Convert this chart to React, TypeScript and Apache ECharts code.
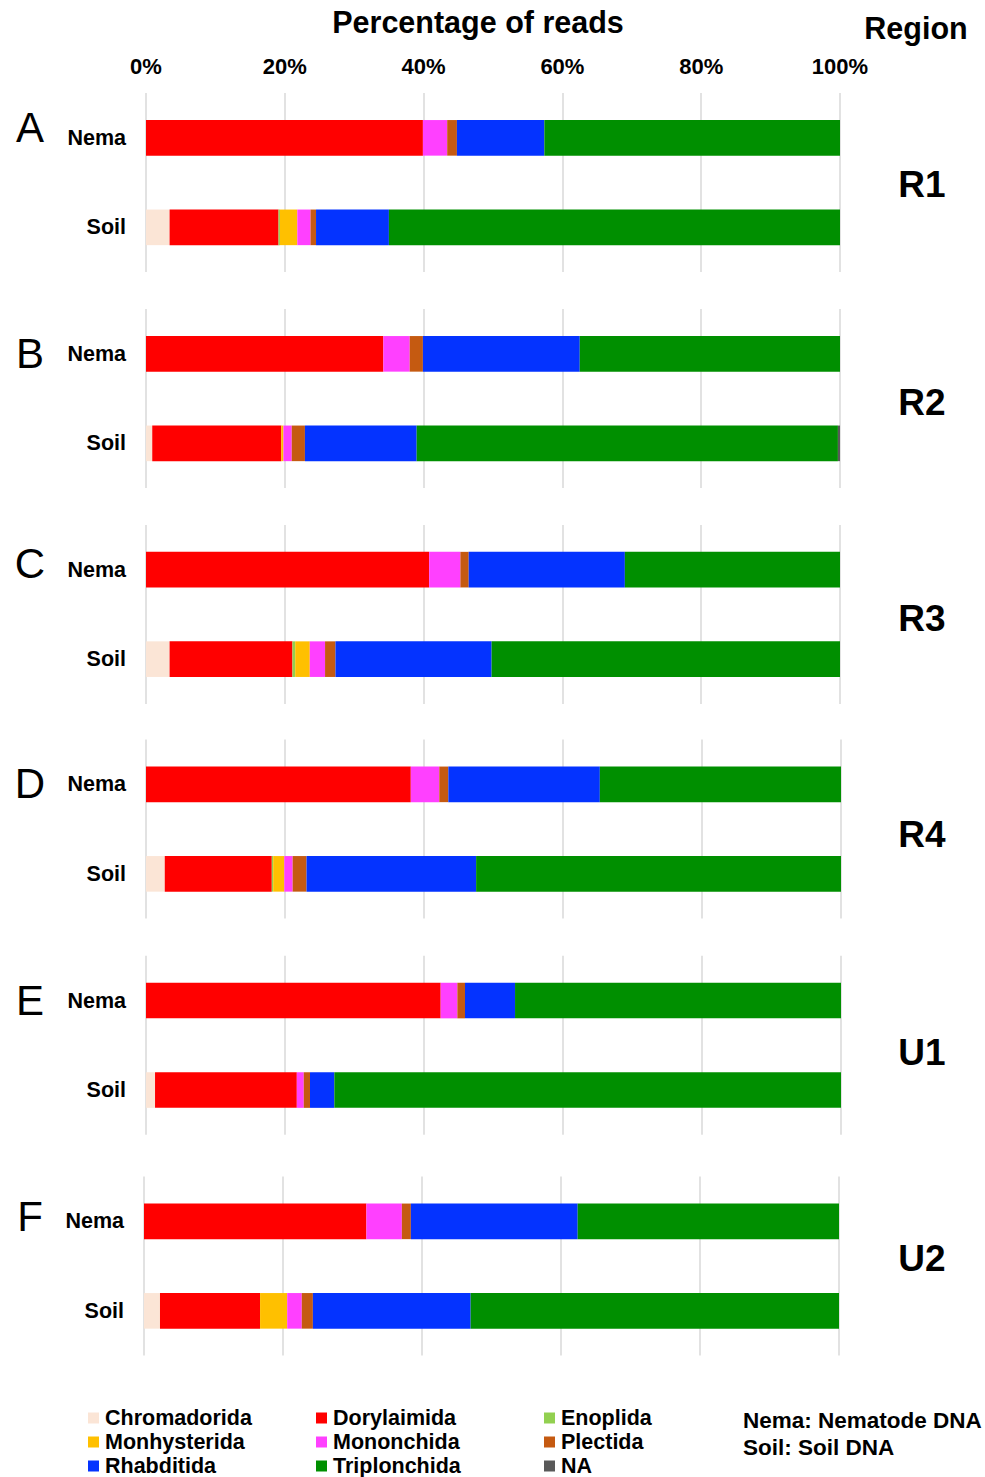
import React, { useEffect, useRef } from "react";
import * as echarts from "echarts";

const ORDERS = ["Chromadorida", "Dorylaimida", "Enoplida", "Monhysterida", "Mononchida", "Plectida", "Rhabditida", "Triplonchida", "NA"];
const COLORS = ["#FBE5D6", "#FF0000", "#92D050", "#FFC000", "#FF40FF", "#C55A11", "#0433FF", "#008F00", "#595959"];
const SAMPLES = ["Nema", "Soil"];
const PANELS = ["A", "B", "C", "D", "E", "F"];
const REGIONS = ["R1", "R2", "R3", "R4", "U1", "U2"];
const TICKS = [0, 20, 40, 60, 80, 100];

// values per order: [A Nema, A Soil, B Nema, B Soil, C Nema, C Soil, D Nema, D Soil, E Nema, E Soil, F Nema, F Soil]
const chromadorida = [0, 3.4, 0, 0.9, 0, 3.4, 0, 2.7, 0, 1.3, 0, 2.3];
const dorylaimida = [39.9, 15.7, 34.2, 18.6, 40.8, 17.7, 38.1, 15.4, 42.4, 20.4, 32.0, 14.4];
const enoplida = [0, 0.2, 0, 0, 0, 0.4, 0, 0.2, 0, 0, 0, 0];
const monhysterida = [0, 2.5, 0, 0.3, 0, 2.1, 0, 1.6, 0, 0, 0, 3.9];
const mononchida = [3.5, 1.9, 3.8, 1.2, 4.5, 2.2, 4.1, 1.2, 2.4, 1.0, 5.1, 2.1];
const plectida = [1.4, 0.8, 1.9, 1.9, 1.2, 1.5, 1.3, 2.0, 1.1, 0.9, 1.3, 1.6];
const rhabditida = [12.6, 10.5, 22.6, 16.1, 22.5, 22.5, 21.8, 24.4, 7.2, 3.5, 24.0, 22.7];
const triplonchida = [42.6, 65.0, 37.5, 60.7, 31.0, 50.2, 34.7, 52.5, 46.9, 72.9, 37.6, 53.0];
const na = [0, 0, 0, 0.3, 0, 0, 0, 0, 0, 0, 0, 0];

const VALUES = [chromadorida, dorylaimida, enoplida, monhysterida, mononchida, plectida, rhabditida, triplonchida, na];

const LEGEND_ROWS = [
  ["Chromadorida", "Dorylaimida", "Enoplida"],
  ["Monhysterida", "Mononchida", "Plectida"],
  ["Rhabditida", "Triplonchida", "NA"],
];

const FONT = "'Liberation Sans', Arial, sans-serif";

export default function App() {
  const ref = useRef<HTMLDivElement>(null);

  useEffect(() => {
    if (!ref.current) return;
    const chart = echarts.init(ref.current, undefined, { renderer: "svg" });

    const gridTops = [93.1, 309.1, 524.9, 739.6, 955.8, 1176.6];
    const gridLefts = [146, 146, 146, 146, 146, 144];
    const gridWidths = [694, 694, 694, 695, 695, 695];
    const letterY = [127, 353, 563, 783, 1000, 1216];
    const regionY = [184, 402, 618, 834, 1052, 1258];

    const grids = PANELS.map((_, g) => ({
      left: gridLefts[g],
      width: gridWidths[g],
      top: gridTops[g],
      height: 179,
      containLabel: false,
    }));

    const xAxes = PANELS.map((_, g) => ({
      type: "value",
      gridIndex: g,
      min: TICKS[0],
      max: TICKS[TICKS.length - 1],
      interval: 20,
      position: "top",
      axisLine: { show: false },
      axisTick: { show: false },
      axisLabel: {
        show: g === 0,
        formatter: "{value}%",
        fontFamily: FONT,
        fontWeight: "bold",
        fontSize: 22,
        color: "#000",
        margin: 16,
      },
      splitLine: { show: true, lineStyle: { color: "#d9d9d9", width: 1.5 } },
    }));

    const yAxes = PANELS.map((_, g) => ({
      type: "category",
      gridIndex: g,
      data: SAMPLES,
      inverse: true,
      axisLine: { show: false },
      axisTick: { show: false },
      axisLabel: {
        fontFamily: FONT,
        fontWeight: "bold",
        fontSize: 21.5,
        color: "#000",
        margin: 20,
      },
    }));

    const series: any[] = [];
    PANELS.forEach((_, g) => {
      ORDERS.forEach((name, o) => {
        series.push({
          type: "bar",
          name,
          stack: "p" + g,
          xAxisIndex: g,
          yAxisIndex: g,
          barWidth: 35.6,
          data: [VALUES[o][2 * g], VALUES[o][2 * g + 1]],
          itemStyle: { color: COLORS[o] },
        });
      });
    });

    const rowCenters = [1417, 1441, 1465];
    const legends = LEGEND_ROWS.map((data, i) => ({
      data,
      orient: "horizontal",
      left: 88,
      top: rowCenters[i] - 10,
      padding: 0,
      itemGap: 0,
      itemWidth: 11,
      itemHeight: 11,
      icon: "rect",
      selectedMode: false,
      textStyle: {
        fontFamily: FONT,
        fontWeight: "bold",
        fontSize: 21.5,
        lineHeight: 20,
        color: "#000",
        width: 211,
        overflow: "none",
        padding: [0, 0, 0, 1],
      },
    }));

    const graphics: any[] = [
      {
        type: "text",
        x: 478,
        y: 22,
        style: {
          text: "Percentage of reads",
          font: `bold 30.5px ${FONT}`,
          fill: "#000",
          textAlign: "center",
          textVerticalAlign: "middle",
        },
      },
      {
        type: "text",
        x: 916,
        y: 28,
        style: {
          text: "Region",
          font: `bold 30.5px ${FONT}`,
          fill: "#000",
          textAlign: "center",
          textVerticalAlign: "middle",
        },
      },
      {
        type: "text",
        x: 743,
        y: 1420,
        style: {
          text: "Nema: Nematode DNA",
          font: `bold 22.5px ${FONT}`,
          fill: "#000",
          textAlign: "left",
          textVerticalAlign: "middle",
        },
      },
      {
        type: "text",
        x: 743,
        y: 1447,
        style: {
          text: "Soil: Soil DNA",
          font: `bold 22.5px ${FONT}`,
          fill: "#000",
          textAlign: "left",
          textVerticalAlign: "middle",
        },
      },
    ];
    PANELS.forEach((p, g) => {
      graphics.push({
        type: "text",
        x: 30,
        y: letterY[g],
        style: {
          text: p,
          font: `42px ${FONT}`,
          fill: "#000",
          textAlign: "center",
          textVerticalAlign: "middle",
        },
      });
      graphics.push({
        type: "text",
        x: 922,
        y: regionY[g],
        style: {
          text: REGIONS[g],
          font: `bold 37px ${FONT}`,
          fill: "#000",
          textAlign: "center",
          textVerticalAlign: "middle",
        },
      });
    });

    chart.setOption({
      animation: false,
      backgroundColor: "#fff",
      grid: grids,
      xAxis: xAxes,
      yAxis: yAxes,
      legend: legends,
      series,
      graphic: graphics,
    });

    return () => chart.dispose();
  }, []);

  return (
    <div
      ref={ref}
      style={{ position: "absolute", left: 0, top: 0, width: 985, height: 1477 }}
    />
  );
}
